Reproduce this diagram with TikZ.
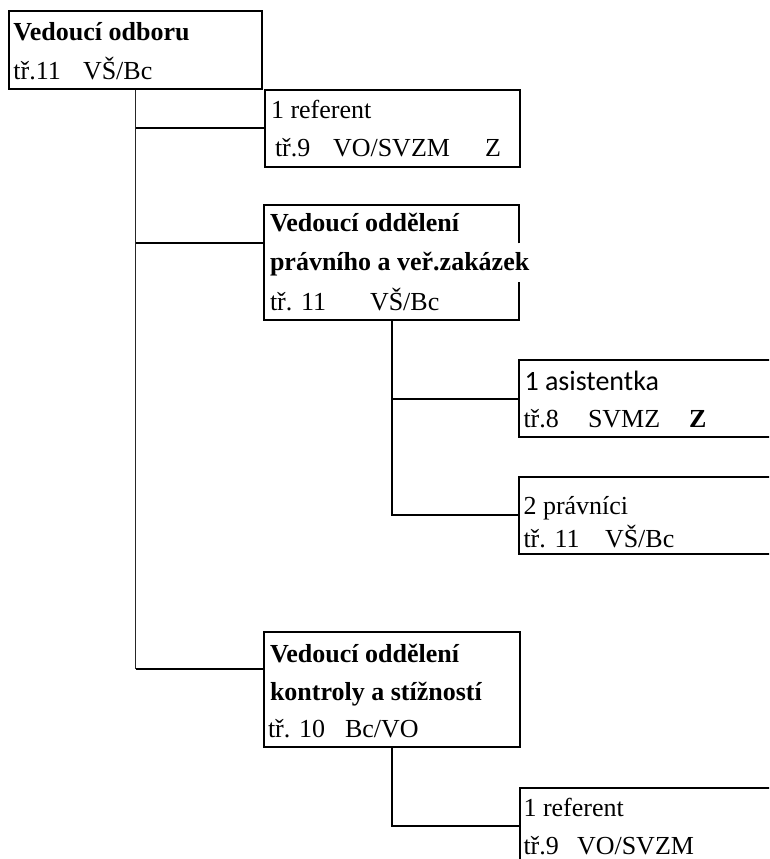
\documentclass[tikz,border=0pt]{standalone}
\usepackage{fontspec}
\setmainfont{Liberation Serif}
\newfontfamily\calibrifont{Carlito}
\usetikzlibrary{calc,fit}
\tikzset{
  boxline/.style={line width=1.5pt, line join=miter},
  box/.style={draw, boxline, inner sep=0pt},
  nobox/.style={inner sep=0pt},
  conn/.style={line width=1.5pt},
  mainv/.style={line width=1.2pt, draw=black!85},
  txt/.style={anchor=base west, inner sep=0pt, outer sep=0pt, font=\fontsize{19.5}{23}\selectfont},
  btxt/.style={txt, font=\fontsize{19.5}{23}\selectfont\bfseries},
  ctxt/.style={txt, font=\calibrifont\fontsize{21}{25}\selectfont}
}
\begin{document}
\begin{tikzpicture}[x=0.75pt,y=-0.75pt]
\useasboundingbox (0,0) rectangle (769,859);
\clip (0,0) rectangle (769,859);
\fill[white] (0,0) rectangle (769,859);

% boxes
\node[box, fit={(9,11) (262,89)}] (b1) {};
\node[box, fit={(265,90) (520,167)}] (b2) {};
\node[nobox, fit={(264,205) (519,320)}] (b3) {};
\draw[boxline] ($(b3.north east)+(0,38.7)$) -- (b3.north east) -- (b3.north west)
  -- (b3.south west) -- (b3.south east) -- ($(b3.south east)+(0,-38.2)$);
\node[box, fit={(519,360) (790,437)}] (b4) {};
\node[box, fit={(519,476.5) (790,554)}] (b5) {};
\node[box, fit={(264,632) (520,747)}] (b6) {};
\node[box, fit={(520,787.7) (790,865)}] (b7) {};

\coordinate (b3r1) at ($(b3.north west)+(0,38.7)$);
\coordinate (b6r1) at ($(b6.north west)+(0,38.3)$);

% connectors
\draw[mainv] (b1.south) -- (b1.south |- b6r1);
\draw[conn] (b1.south |- b2.west) -- (b2.west);
\draw[conn] (b1.south |- b3r1) -- (b3r1);
\draw[conn] (b1.south |- b6r1) -- (b6r1);
\draw[conn] (b3.south) |- (b5.west);
\draw[conn] (b3.south |- b4.west) -- (b4.west);
\draw[conn] (b6.south) |- (b7.west);

% texts box 1
\node[btxt] (t1a) at (13.5,40.5) {Vedoucí odboru};
\node[txt] (t1b) at (13.5,79.3) {tř.11};
\node[txt] (t1c) at (83,79.3) {VŠ/Bc};
% box 2
\node[txt] (t2a) at (271,119) {1 referent};
\node[txt] (t2b) at (275,157) {tř.9};
\node[txt] (t2c) at (333,157) {VO/SVZM};
\node[txt] (t2d) at (485,157) {Z};
% box 3
\node[btxt] (t3a) at (270,231.5) {Vedoucí oddělení};
\node[btxt] (t3b) at (270,270.5) {právního a veř.zakázek};
\node[txt] (t3c) at (270,310.5) {tř. 11};
\node[txt] (t3d) at (370,310.5) {VŠ/Bc};
% box 4
\node[ctxt] (t4a) at (524.5,390.7) {1 asistentka};
\node[txt] (t4b) at (523.5,427.3) {tř.8};
\node[txt] (t4c) at (588,427.3) {SVMZ};
\node[btxt] (t4d) at (689,427.3) {Z};
% box 5
\node[txt] (t5a) at (523.5,514.5) {2 právníci};
\node[txt] (t5b) at (523.5,547.5) {tř. 11};
\node[txt] (t5c) at (605,547.5) {VŠ/Bc};
% box 6
\node[btxt] (t6a) at (270,662) {Vedoucí oddělení};
\node[btxt] (t6b) at (270,700) {kontroly a stížností};
\node[txt] (t6c) at (268,737.7) {tř. 10};
\node[txt] (t6d) at (345,737.7) {Bc/VO};
% box 7
\node[txt] (t7a) at (523.5,816) {1 referent};
\node[txt] (t7b) at (523.5,854) {tř.9};
\node[txt] (t7c) at (577,854) {VO/SVZM};
\end{tikzpicture}
\end{document}
